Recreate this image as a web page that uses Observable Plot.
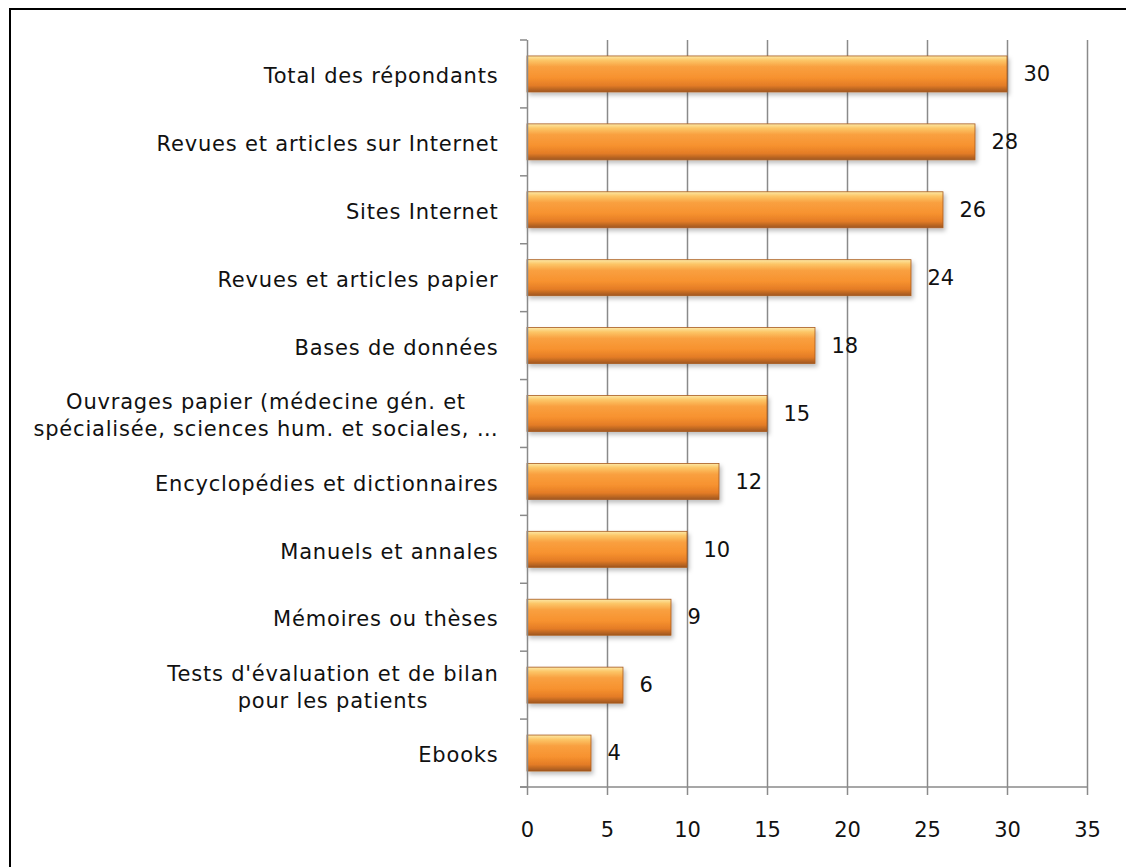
<!DOCTYPE html>
<html>
<head>
<meta charset="utf-8">
<script src="https://cdn.jsdelivr.net/npm/d3@7"></script>
<script src="https://cdn.jsdelivr.net/npm/@observablehq/plot@0.6"></script>
<style>
  html, body { margin: 0; padding: 0; background: #fff; overflow: hidden; }
  #wrap { position: relative; width: 1126px; height: 867px; overflow: hidden; }
  #frame { position: absolute; left: 9px; top: 8px; width: 1300px; height: 1000px; border: 2px solid #000; box-sizing: border-box; pointer-events: none; }
  #chart { position: absolute; left: 0; top: 0; }
  g[aria-label="y-axis tick label"] text { letter-spacing: 0.8px; }
</style>
</head>
<body>
<div id="wrap"><div id="chart"></div><div id="frame"></div></div>
<script>
const categories = [
  "Total des répondants",
  "Revues et articles sur Internet",
  "Sites Internet",
  "Revues et articles papier",
  "Bases de données",
  "Ouvrages papier (médecine gén. et\nspécialisée, sciences hum. et sociales, …",
  "Encyclopédies et dictionnaires",
  "Manuels et annales",
  "Mémoires ou thèses",
  "Tests d'évaluation et de bilan\npour les patients",
  "Ebooks"
];
const values = [30, 28, 26, 24, 18, 15, 12, 10, 9, 6, 4];
const xTicks = [0, 5, 10, 15, 20, 25, 30, 35];

const data = categories.map((c, i) => ({category: c, value: values[i]}));
const FONT = "'DejaVu Sans', Verdana, sans-serif";

const plot = Plot.plot({
  width: 1126,
  height: 867,
  marginLeft: 527,
  marginRight: 39,
  marginTop: 40,
  marginBottom: 80,
  style: {fontFamily: FONT, fontSize: "21px", color: "#111", background: "transparent"},
  x: {domain: [0, 35], ticks: xTicks},
  y: {domain: categories, paddingInner: 0.47, paddingOuter: 0.235, round: false, label: null},
  marks: [
    Plot.gridX(xTicks.slice(1), {stroke: "#8a8a8a", strokeOpacity: 1, strokeWidth: 1.5}),
    Plot.axisX({ticks: xTicks, tickSize: 8, tickPadding: 27, stroke: "#8a8a8a", strokeWidth: 1.5, label: null, tickFormat: d => String(d), fill: "#111", fontSize: 21}),
    Plot.axisY({tickSize: 0, tickPadding: 29, label: null, lineHeight: 1.3, fontSize: 21, fill: "#111"}),
    Plot.barX(data, {y: "category", x: "value", fill: "url(#barGrad)", stroke: "#a85a1e", strokeWidth: 0.8}),
    Plot.text(data, {y: "category", x: "value", text: d => String(d.value), textAnchor: "start", dx: 16, fontSize: 21, fill: "#111"}),
    Plot.ruleX([0], {stroke: "#8a8a8a", strokeWidth: 1.5})
  ]
});

document.getElementById("chart").appendChild(plot);
const svg = d3.select(plot);

// gradient + shadow defs
const defs = svg.insert("defs", ":first-child");
const g = defs.append("linearGradient").attr("id", "barGrad").attr("x1", 0).attr("y1", 0).attr("x2", 0).attr("y2", 1);
[["0%", "#fde9a6"], ["12%", "#fcc667"], ["30%", "#f9a040"], ["60%", "#f7922f"], ["82%", "#e47c26"], ["100%", "#9e561f"]]
  .forEach(([o, c]) => g.append("stop").attr("offset", o).attr("stop-color", c));
const f = defs.append("filter").attr("id", "shadow").attr("x", "-5%").attr("y", "-20%").attr("width", "115%").attr("height", "160%");
f.append("feDropShadow").attr("dx", 2).attr("dy", 3).attr("stdDeviation", 2).attr("flood-color", "#000").attr("flood-opacity", 0.25);
svg.selectAll("rect").filter(function() { return this.getAttribute("fill") === "url(#barGrad)" || (this.parentNode && this.parentNode.getAttribute("fill") === "url(#barGrad)"); })
  .attr("filter", "url(#shadow)");

// category tick marks at band boundaries, using the plot's y scale
const y = plot.scale("y");
const x = plot.scale("x");
const x0 = x.apply(0);
const step = y.step;
const bounds = categories.map(c => y.apply(c) - (step - y.bandwidth) / 2);
bounds.push(y.apply(categories[categories.length - 1]) + y.bandwidth + (step - y.bandwidth) / 2);
const tg = svg.append("g").attr("stroke", "#8a8a8a").attr("stroke-width", 1.5);
bounds.forEach(b => tg.append("line").attr("x1", x0 - 7).attr("x2", x0).attr("y1", b).attr("y2", b));
// bottom axis line
tg.append("line").attr("x1", x0 - 7).attr("x2", x.apply(35)).attr("y1", bounds[bounds.length - 1]).attr("y2", bounds[bounds.length - 1]);

// center multi-line category labels relative to each other
svg.selectAll("g[aria-label='y-axis tick label'] text").each(function() {
  const tspans = this.querySelectorAll("tspan");
  if (tspans.length < 2) return;
  let W = 0;
  tspans.forEach(t => { W = Math.max(W, t.getComputedTextLength()); });
  this.setAttribute("text-anchor", "middle");
  tspans.forEach(t => {
    const x0t = parseFloat(t.getAttribute("x") || 0);
    t.setAttribute("x", x0t - W / 2);
  });
});
</script>
</body>
</html>
